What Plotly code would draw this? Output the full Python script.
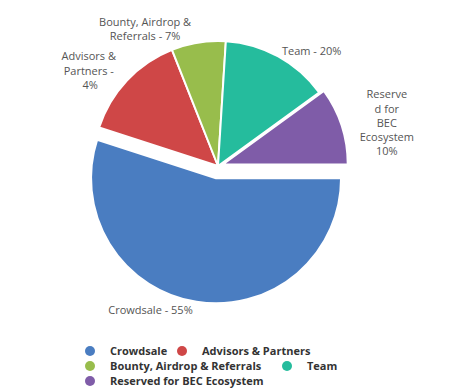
import plotly.graph_objects as go

categories = ["Crowdsale", "Advisors & Partners", "Bounty, Airdrop & Referrals", "Team", "Reserved for BEC Ecosystem"]
values = [55, 14, 7, 14, 10]
label_texts = ["Crowdsale - 55%", "Advisors &<br>Partners -<br> 4%", "Bounty, Airdrop &<br>Referrals - 7%",
               "Team - 20%", "Reserve<br>d for<br>BEC<br>Ecosystem<br>10%"]
colors = ["#4a7dc1", "#cf4747", "#98bd4c", "#25bc9d", "#7f5ca8"]
pulls = [0.1, 0, 0, 0, 0.04]

W, H = 452, 389
# legend entry placement (pixels: x of entry start, y of row centre)
legend_pos = [(70, 351), (162, 351), (70, 366), (267, 366), (70, 381)]

fig = go.Figure()
fig.add_trace(go.Pie(
    labels=categories, values=values, text=label_texts,
    textinfo="text", textposition="outside",
    textfont=dict(family="Open Sans", size=11, color="#555555"),
    marker=dict(colors=colors, line=dict(color="white", width=2)),
    sort=False, direction="clockwise", rotation=90, pull=pulls,
    showlegend=False, hoverinfo="label+percent", automargin=False,
    domain=dict(x=[0.1781, 0.7865], y=[0.2198, 0.9267]),
))
layout_legends = {}
for i, (name, col) in enumerate(zip(categories, colors)):
    key = "legend" if i == 0 else f"legend{i+1}"
    fig.add_trace(go.Scatter(x=[None], y=[None], mode="markers", name=name, legend=key,
                             marker=dict(color=col, size=10, symbol="circle")))
    px, py = legend_pos[i]
    layout_legends[key] = dict(orientation="h", x=px / W, xanchor="left", y=1 - py / H, yanchor="middle",
                               bgcolor="rgba(0,0,0,0)", borderwidth=0,
                               font=dict(family="Open Sans", size=11, color="#333333", weight="bold"))

fig.update_layout(
    width=W, height=H,
    margin=dict(l=0, r=0, t=0, b=0, autoexpand=False),
    paper_bgcolor="white", plot_bgcolor="white",
    xaxis=dict(visible=False), yaxis=dict(visible=False),
    **layout_legends,
)
fig.write_html("out.html")
